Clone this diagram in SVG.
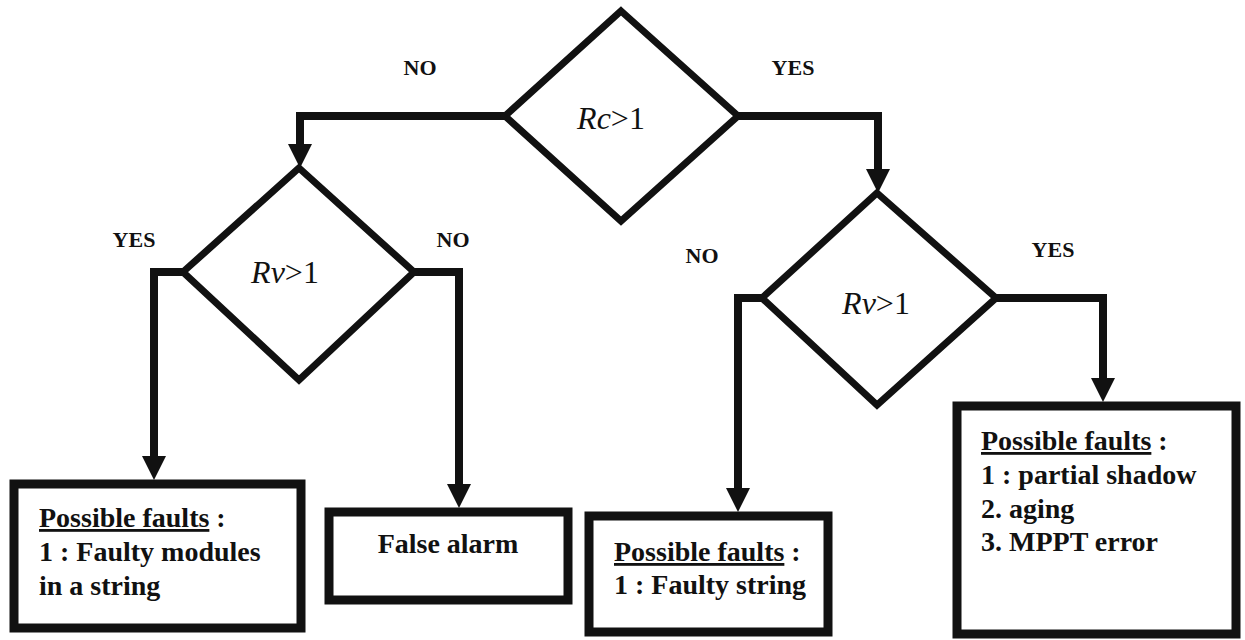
<svg xmlns="http://www.w3.org/2000/svg" width="1245" height="640" viewBox="0 0 1245 640">
<style>
.dia{fill:#fff;stroke:#111;stroke-width:7;stroke-linejoin:miter}
.box{fill:#fff;stroke:#111;stroke-width:9}
.con{fill:none;stroke:#111;stroke-width:8;stroke-linejoin:miter;marker-end:url(#arr)}
text{font-family:'Liberation Serif','DejaVu Serif',serif;fill:#111}
.lbl{font-weight:bold;font-size:22px}
.cond{font-size:32px}
.txt{font-weight:bold;font-size:28px}
</style>
<defs>
<marker id="arr" markerUnits="userSpaceOnUse" markerWidth="24" markerHeight="24" refX="0" refY="12" orient="auto">
<path d="M0,0 L24,12 L0,24 z" fill="#111"/>
</marker>
</defs>
<rect width="1245" height="640" fill="#fff"/>
<g id="connectors">
<path class="con" d="M505,116 H300 V144"/>
<path class="con" d="M738,116 H878 V169"/>
<path class="con" d="M183,272 H154 V456"/>
<path class="con" d="M414,272 H459 V484"/>
<path class="con" d="M762,298 H738 V488"/>
<path class="con" d="M996,298 H1103 V378"/>
</g>
<g id="labels">
<text class="lbl" x="420" y="75" text-anchor="middle">NO</text>
<text class="lbl" x="793" y="75" text-anchor="middle">YES</text>
<text class="lbl" x="134" y="247" text-anchor="middle">YES</text>
<text class="lbl" x="453" y="247" text-anchor="middle">NO</text>
<text class="lbl" x="702" y="263" text-anchor="middle">NO</text>
<text class="lbl" x="1053" y="257" text-anchor="middle">YES</text>
</g>
<g id="d-rc">
<polygon class="dia" points="621,11 738,116 621,221 505,116"/>
<text class="cond" x="611" y="129" text-anchor="middle"><tspan font-style="italic">Rc</tspan>&gt;1</text>
</g>
<g id="d-rv-left">
<polygon class="dia" points="299,168 414,272 299,380 183,272"/>
<text class="cond" x="285" y="283" text-anchor="middle"><tspan font-style="italic">Rv</tspan>&gt;1</text>
</g>
<g id="d-rv-right">
<polygon class="dia" points="877,193 996,298 877,405 762,298"/>
<text class="cond" x="876" y="314" text-anchor="middle"><tspan font-style="italic">Rv</tspan>&gt;1</text>
</g>
<g id="b-modules">
<rect class="box" x="14" y="484" width="287" height="144"/>
<text class="txt" x="39" y="527"><tspan text-decoration="underline">Possible faults</tspan> :</text>
<text class="txt" x="39" y="561">1 : Faulty modules</text>
<text class="txt" x="39" y="595">in a string</text>
</g>
<g id="b-false">
<rect class="box" x="329" y="512" width="239" height="88"/>
<text class="txt" x="448" y="553" text-anchor="middle">False alarm</text>
</g>
<g id="b-string">
<rect class="box" x="589" y="516" width="239" height="116"/>
<text class="txt" x="614" y="561"><tspan text-decoration="underline">Possible faults</tspan> :</text>
<text class="txt" x="614" y="594">1 : Faulty string</text>
</g>
<g id="b-shadow">
<rect class="box" x="957" y="406" width="279" height="228"/>
<text class="txt" x="981" y="450"><tspan text-decoration="underline">Possible faults</tspan> :</text>
<text class="txt" x="981" y="484">1 : partial shadow</text>
<text class="txt" x="981" y="518">2. aging</text>
<text class="txt" x="981" y="551">3. MPPT error</text>
</g>
</svg>
